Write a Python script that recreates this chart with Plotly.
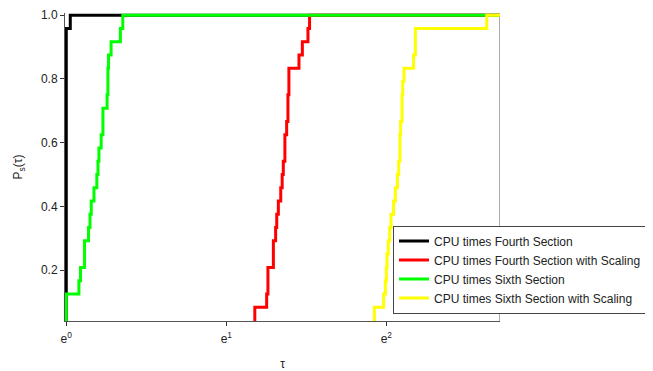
import plotly.graph_objects as go

# Performance profiles: x = ln(tau) at each step, y = proportion of problems solved (24 problems)
tau_max_log = 2.71

black_log_tau = [0.0, 0.0, 0.025]
black_p = [0.0, 0.9583, 1.0]

red_log_tau = [1.178, 1.178, 1.252, 1.260, 1.294, 1.308, 1.315, 1.325, 1.340, 1.349,
               1.356, 1.366, 1.377, 1.385, 1.391, 1.454, 1.475, 1.510, 1.520]
red_p = [0.0, 0.0833, 0.125, 0.2083, 0.2917, 0.3333, 0.375, 0.4167, 0.4583, 0.5,
         0.5417, 0.625, 0.6667, 0.75, 0.8333, 0.875, 0.9167, 0.9583, 1.0]

green_log_tau = [0.0, 0.0, 0.079, 0.089, 0.114, 0.139, 0.148, 0.156, 0.173, 0.191,
                 0.198, 0.204, 0.218, 0.229, 0.255, 0.260, 0.264, 0.280, 0.338, 0.353]
green_p = [0.0, 0.125, 0.1667, 0.2083, 0.2917, 0.3333, 0.375, 0.4167, 0.4583, 0.5,
           0.5417, 0.5833, 0.625, 0.7083, 0.75, 0.8333, 0.875, 0.9167, 0.9583, 1.0]

yellow_log_tau = [1.925, 1.925, 1.983, 1.994, 2.000, 2.004, 2.012, 2.021, 2.029, 2.045,
                  2.056, 2.069, 2.077, 2.085, 2.089, 2.098, 2.102, 2.110, 2.170, 2.181, 2.627]
yellow_p = [0.0, 0.0833, 0.125, 0.1667, 0.2083, 0.25, 0.2917, 0.3333, 0.375, 0.4167,
            0.4583, 0.5, 0.5417, 0.625, 0.6667, 0.75, 0.7917, 0.8333, 0.875, 0.9583, 1.0]

series_names = ["CPU times Fourth Section",
                "CPU times Fourth Section with Scaling",
                "CPU times Sixth Section",
                "CPU times Sixth Section with Scaling"]
series_colors = ["#000000", "#ff0000", "#00ff00", "#ffff00"]

x_tick_vals = [0, 1, 2]
x_tick_text = ["e<sup>0</sup>", "e<sup>1</sup>", "e<sup>2</sup>"]
y_tick_vals = [0.2, 0.4, 0.6, 0.8, 1.0]
y_tick_text = ["0.2", "0.4", "0.6", "0.8", "1.0"]

fig = go.Figure()
all_x = [black_log_tau, red_log_tau, green_log_tau, yellow_log_tau]
all_y = [black_p, red_p, green_p, yellow_p]
for xs, ys, name, color in zip(all_x, all_y, series_names, series_colors):
    fig.add_trace(go.Scatter(
        x=xs + [tau_max_log], y=ys + [ys[-1]],
        mode="lines", line=dict(color=color, width=3, shape="hv"),
        name=name,
    ))

font_family = "Arial, Liberation Sans, sans-serif"
# page body has an 8px margin, so the figure is 8px smaller and shifted
fig.update_layout(
    width=645, height=363,
    margin=dict(l=57, r=153, t=5, b=50, autoexpand=False),
    paper_bgcolor="white", plot_bgcolor="white",
    font=dict(family=font_family, size=12, color="#222"),
    showlegend=True,
    legend=dict(
        x=0.754, y=0.31, xanchor="left", yanchor="top",
        bordercolor="#444", borderwidth=1, bgcolor="white",
        font=dict(size=12, color="#222"),
        tracegroupgap=0, itemwidth=30,
    ),
    xaxis=dict(
        range=[-0.008, tau_max_log], tickvals=x_tick_vals, ticktext=x_tick_text,
        ticks="outside", ticklen=4, tickcolor="#333", showline=True, linecolor="#555",
        linewidth=1, showgrid=False, zeroline=False, automargin=False,
        ticklabelstandoff=3,
        title=dict(text="τ", font=dict(size=12), standoff=22),
    ),
    yaxis=dict(
        range=[0.04, 1.007], tickvals=y_tick_vals, ticktext=y_tick_text,
        ticks="outside", ticklen=4, tickcolor="#333", showline=True, linecolor="#555",
        linewidth=1, showgrid=False, zeroline=False, automargin=False,
        title=dict(text="P<sub>s</sub>(τ)", font=dict(size=12)),
    ),
    shapes=[dict(type="line", xref="x", yref="y", x0=tau_max_log, x1=tau_max_log,
                 y0=0.04, y1=1.0, line=dict(color="#555", width=1), layer="below")],
)

fig.write_html("out.html")
